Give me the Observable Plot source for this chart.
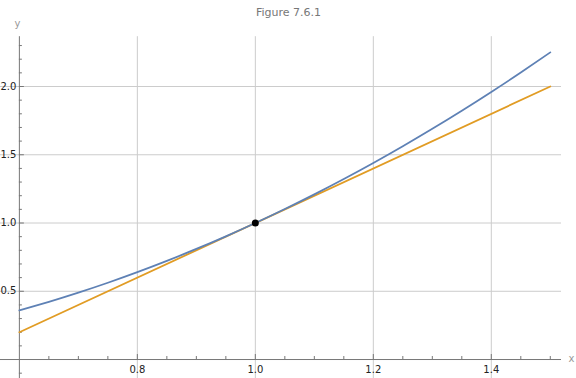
<!DOCTYPE html>
<html><head><meta charset="utf-8">
<script src="https://cdn.jsdelivr.net/npm/d3@7"></script>
<script src="https://cdn.jsdelivr.net/npm/@observablehq/plot@0.6"></script>
<style>body{margin:0;background:#fff;font-family:"DejaVu Sans",sans-serif;}</style>
</head><body><div id="chart"></div>
<script>
const title = "Figure 7.6.1";
const curveX = [0.6,0.65,0.7,0.75,0.8,0.85,0.9,0.95,1.0,1.05,1.1,1.15,1.2,1.25,1.3,1.35,1.4,1.45,1.5];
const curveY = [0.36,0.4225,0.49,0.5625,0.64,0.7225,0.81,0.9025,1.0,1.1025,1.21,1.3225,1.44,1.5625,1.69,1.8225,1.96,2.1025,2.25];
const lineX = [0.6,1.5];
const lineY = [0.2,2.0];
const pointX = [1.0];
const pointY = [1.0];
const xTicks = [0.8,1.0,1.2,1.4];
const xTickLabels = ["0.8","1.0","1.2","1.4"];
const yTicks = [0.5,1.0,1.5,2.0];
const yTickLabels = ["0.5","1.0","1.5","2.0"];
const xMinor = [0.65,0.7,0.75,0.85,0.9,0.95,1.05,1.1,1.15,1.25,1.3,1.35,1.45,1.5];
const yMinor = [-0.1,0.1,0.2,0.3,0.4,0.6,0.7,0.8,0.9,1.1,1.2,1.3,1.4,1.6,1.7,1.8,1.9,2.1,2.2,2.3];

const W = 576, H = 378;
const xDom = [0.568, 1.519+ (15/590)];
const yDom = [-0.139, 2.630];
const pxX = (W) / (xDom[1]-xDom[0]);
const pxY = H / (yDom[1]-yDom[0]);
const axisTop = 2.365, axisRight = 1.519, axisLeft = 0.568, xAx = 0.6;

const curve = curveX.map((x,i)=>({x, y: curveY[i]}));
const tangent = lineX.map((x,i)=>({x, y: lineY[i]}));
const pts = pointX.map((x,i)=>({x, y: pointY[i]}));

const gridC = "#cccccc", axC = "#777777";
const minorLen = 3, majorLen = 5;

const chart = Plot.plot({
  width: W, height: H,
  margin: 0,
  x: {domain: xDom, axis: null},
  y: {domain: yDom, axis: null},
  style: {fontFamily: "DejaVu Sans, sans-serif", fontSize: "10px", background: "#fff"},
  marks: [
    Plot.ruleX(xTicks, {y1: yDom[0], y2: axisTop, stroke: gridC, strokeWidth: 1}),
    Plot.ruleY(yTicks, {x1: axisLeft, x2: axisRight, stroke: gridC, strokeWidth: 1}),
    Plot.ruleY([0], {x1: axisLeft, x2: axisRight, stroke: axC, strokeWidth: 1}),
    Plot.ruleX([xAx], {y1: yDom[0], y2: axisTop, stroke: axC, strokeWidth: 1}),
    Plot.ruleX(xMinor, {y1: 0, y2: minorLen/pxY, stroke: axC}),
    Plot.ruleX(xTicks, {y1: 0, y2: majorLen/pxY, stroke: axC}),
    Plot.ruleY(yMinor, {x1: xAx, x2: xAx + minorLen/pxX, stroke: axC}),
    Plot.ruleY(yTicks, {x1: xAx, x2: xAx + majorLen/pxX, stroke: axC}),
    Plot.line(tangent, {x: "x", y: "y", stroke: "#e19c24", strokeWidth: 1.8}),
    Plot.line(curve, {x: "x", y: "y", stroke: "#5e81b5", strokeWidth: 1.8, curve: "natural"}),
    Plot.dot(pts, {x: "x", y: "y", r: 3.5, fill: "#000"}),
    Plot.text(xTicks, {x: d=>d, y: 0, text: (d,i)=>xTickLabels[i], dy: 10, fill: "#222", fontSize: 10}),
    Plot.text(yTicks, {x: xAx, y: d=>d, text: (d,i)=>yTickLabels[i], dx: -3, textAnchor: "end", fill: "#222", fontSize: 10}),
    Plot.text(["x"], {x: axisRight, y: 0, text: d=>d, dx: 10, dy: -1, fill: "#999", fontSize: 10}),
    Plot.text(["y"], {x: xAx, y: axisTop, text: d=>d, dx: -2, dy: -13, fill: "#999", fontSize: 10}),
    Plot.text([title], {frameAnchor: "top", text: d=>d, dy: 8, dx: 0, fill: "#777", fontSize: 11})
  ]
});
document.getElementById("chart").appendChild(chart);
</script></body></html>
